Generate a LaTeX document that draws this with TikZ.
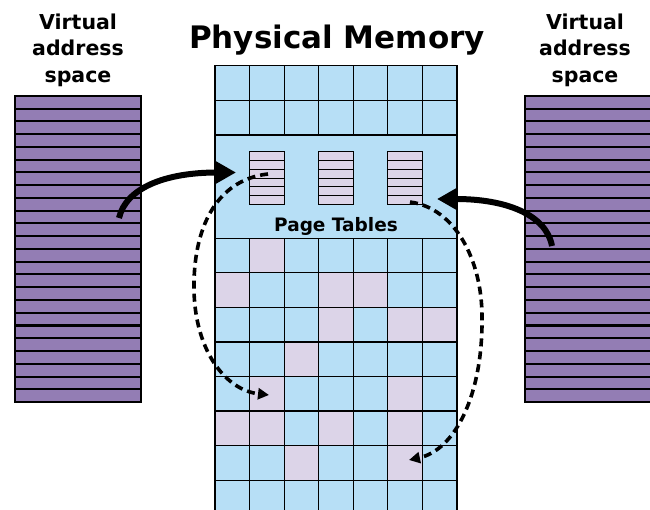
\documentclass[tikz,border=0pt]{standalone}
\usepackage{fontspec}
\setmainfont{DejaVu Sans}
\usetikzlibrary{arrows.meta}
\definecolor{vpurple}{HTML}{937DB4}
\definecolor{pblue}{HTML}{B7DFF6}
\definecolor{ppink}{HTML}{DCD4E8}
\tikzset{
  stripe/.style={fill=vpurple,draw=black,line width=2pt},
  cellb/.style={fill=pblue,draw=black,line width=1.2pt},
  cellp/.style={fill=ppink,draw=black,line width=1.2pt},
  ptline/.style={fill=ppink,draw=black,line width=1pt},
  label/.style={font=\bfseries\fontsize{20.5}{26.7}\selectfont,align=center,inner sep=0pt},
  title/.style={font=\bfseries\fontsize{31}{34}\selectfont,inner sep=0pt},
  ptlabel/.style={font=\bfseries\fontsize{18.5}{22}\selectfont,inner sep=0pt},
  bigarrow/.style={line width=6pt,-{Triangle[length=20pt,width=21pt]}},
  dasharrow/.style={line width=3.6pt,dash pattern=on 8pt off 5pt,-{Triangle[length=11pt,width=11pt]}}
}
\begin{document}
\begin{tikzpicture}[x=1pt,y=-1pt]
\useasboundingbox (0,0) rectangle (650,510);
\begin{scope}
\clip (0,0) rectangle (650,510);
% virtual address spaces
\foreach \i in {0,...,23}{
  \draw[stripe] (15,96+\i*12.75) rectangle (141,96+\i*12.75+12.75);
  \draw[stripe] (525,96+\i*12.75) rectangle (660,96+\i*12.75+12.75);
}
% physical memory top rows
\foreach \r in {0,1}{
  \foreach \c in {0,...,6}{
    \draw[cellb] (215+\c*34.57,65.3+\r*34.85) rectangle (215+\c*34.57+34.57,65.3+\r*34.85+34.85);
  }
}
% page table region
\draw[cellb] (215,135) rectangle (457,238.3);
\foreach \x in {249.5,318.5,387.5}{
  \foreach \k in {0,...,5}{
    \draw[ptline] (\x,152+\k*8.67) rectangle (\x+35,152+\k*8.67+8.67);
  }
}
% lower rows
\def\pinkcells{0/1,1/0,1/3,1/4,2/3,2/5,2/6,3/2,4/1,4/5,5/0,5/1,5/3,5/5,6/2,6/5}
\foreach \r in {0,...,7}{
  \foreach \c in {0,...,6}{
    \draw[cellb] (215+\c*34.57,238.3+\r*34.55) rectangle (215+\c*34.57+34.57,238.3+\r*34.55+34.55);
  }
}
\foreach \r/\c in \pinkcells{
  \draw[cellp] (215+\c*34.57,238.3+\r*34.55) rectangle (215+\c*34.57+34.57,238.3+\r*34.55+34.55);
}
\end{scope}
% texts
\node[label,anchor=base] (vl) at (78,82.5) {Virtual\\address\\space};
\node[label,anchor=base] (vr) at (585,82.5) {Virtual\\address\\space};
\node[title,anchor=base] (pm) at (337,48.5) {Physical Memory};
\node[ptlabel,anchor=base] (pt) at (336,232) {Page Tables};
% arrows
\coordinate (a1s) at (119,218);
\coordinate (a1e) at (236,172.5);
\coordinate (a2s) at (552,246);
\coordinate (a2e) at (437,199);
\coordinate (d1s) at (268,174);
\coordinate (d1m) at (194,290);
\coordinate (d1e) at (269,395);
\coordinate (d2s) at (410,202);
\coordinate (d2m) at (482,317);
\coordinate (d2e) at (409,460);
\draw[bigarrow] (a1s) .. controls (126,188) and (165,172.5) .. (a1e);
\draw[bigarrow] (a2s) .. controls (546,214) and (505,199) .. (a2e);
\draw[dasharrow] (d1s) .. controls (215,180) and (193,230) .. (d1m) .. controls (195,350) and (225,390) .. (d1e);
\draw[dasharrow] (d2s) .. controls (455,208) and (482,260) .. (d2m) .. controls (483,395) and (455,450) .. (d2e);
\end{tikzpicture}
\end{document}
